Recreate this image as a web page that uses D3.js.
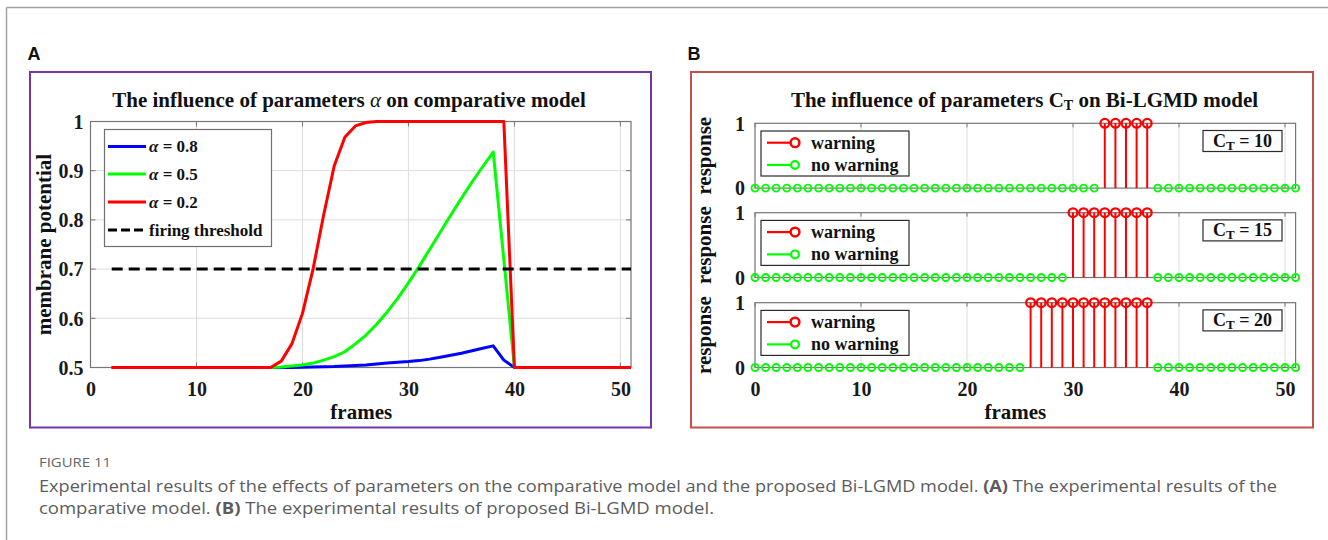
<!DOCTYPE html>
<html>
<head>
<meta charset="utf-8">
<script src="https://cdn.jsdelivr.net/npm/d3@7"></script>
<style>
  html, body { margin: 0; padding: 0; background: #fff; }
  svg { display: block; }
</style>
</head>
<body>
<svg id="fig" width="1328" height="540"></svg>
<script>
// ---------- Panel A data: membrane potential per frame ----------
const framesA = [2,3,4,5,6,7,8,9,10,11,12,13,14,15,16,17,18,19,20,21,22,23,24,25,26,
                 27,28,29,30,31,32,33,34,35,36,37,38,39,40,41,42,43,44,45,46,47,48,49,50,51];
const alpha08 = [0.5,0.5,0.5,0.5,0.5,0.5,0.5,0.5,0.5,0.5,0.5,0.5,0.5,0.5,0.5,
                 0.5,0.5,0.5,0.5005,0.501,0.5015,0.502,0.503,0.504,0.505,0.507,0.509,0.5105,
                 0.512,0.514,0.517,0.521,0.525,0.529,0.534,0.539,0.544,0.515,0.5,
                 0.5,0.5,0.5,0.5,0.5,0.5,0.5,0.5,0.5,0.5,0.5];
const alpha05 = [0.5,0.5,0.5,0.5,0.5,0.5,0.5,0.5,0.5,0.5,0.5,0.5,0.5,0.5,0.5,
                 0.5,0.501,0.503,0.505,0.509,0.515,0.522,0.532,0.548,0.566,0.588,0.613,0.641,
                 0.672,0.705,0.74,0.775,0.81,0.844,0.877,0.908,0.938,0.72,0.5,
                 0.5,0.5,0.5,0.5,0.5,0.5,0.5,0.5,0.5,0.5,0.5];
const alpha02 = [0.5,0.5,0.5,0.5,0.5,0.5,0.5,0.5,0.5,0.5,0.5,0.5,0.5,0.5,0.5,
                 0.5,0.513,0.548,0.61,0.70,0.81,0.91,0.968,0.991,0.998,1,1,1,
                 1,1,1,1,1,1,1,1,1,1,0.5,
                 0.5,0.5,0.5,0.5,0.5,0.5,0.5,0.5,0.5,0.5,0.5];
const firingThreshold = 0.7;
const seriesLabelsA = ["0.8", "0.5", "0.2"];
const seriesColorsA = ["#0000ff", "#00ff00", "#ff0000"];

const xTicks = [0, 10, 20, 30, 40, 50];
const yTicksA = [0.5, 0.6, 0.7, 0.8, 0.9, 1];
const yTickLabelsA = ["0.5", "0.6", "0.7", "0.8", "0.9", "1"];

// ---------- Panel B data: warning response per frame ----------
const framesB = [0,1,2,3,4,5,6,7,8,9,10,11,12,13,14,15,16,17,18,19,20,21,22,23,24,25,
                 26,27,28,29,30,31,32,33,34,35,36,37,38,39,40,41,42,43,44,45,46,47,48,49,50,51];
const responseCT10 = [0,0,0,0,0,0,0,0,0,0,0,0,0,0,0,0,0,0,0,0,0,0,0,0,0,0,
                      0,0,0,0,0,0,0,1,1,1,1,1,0,0,0,0,0,0,0,0,0,0,0,0,0,0];
const responseCT15 = [0,0,0,0,0,0,0,0,0,0,0,0,0,0,0,0,0,0,0,0,0,0,0,0,0,0,
                      0,0,0,0,1,1,1,1,1,1,1,1,0,0,0,0,0,0,0,0,0,0,0,0,0,0];
const responseCT20 = [0,0,0,0,0,0,0,0,0,0,0,0,0,0,0,0,0,0,0,0,0,0,0,0,0,0,
                      1,1,1,1,1,1,1,1,1,1,1,1,0,0,0,0,0,0,0,0,0,0,0,0,0,0];
const ctValues = [10, 15, 20];
const responses = [responseCT10, responseCT15, responseCT20];
const yTicksB = [0, 1];

// ---------- styles ----------
const serif = "'Liberation Serif','Times New Roman',serif";
const sans = "'Liberation Sans',Arial,sans-serif";
const axisGray = "#767676";
const gridGray = "#dddddd";

const svg = d3.select("#fig");

// page frame
svg.append("line").attr("x1", 6.5).attr("y1", 7.5).attr("x2", 6.5).attr("y2", 540)
  .attr("stroke", "#a3a3a3").attr("stroke-width", 1.5);
svg.append("line").attr("x1", 6.5).attr("y1", 7.5).attr("x2", 1328).attr("y2", 7.5)
  .attr("stroke", "#a3a3a3").attr("stroke-width", 1.5);

// panel letters and frames
svg.append("text").attr("x", 27.5).attr("y", 60).text("A")
  .attr("font-family", sans).attr("font-weight", "bold").attr("font-size", 18).attr("fill", "#111");
svg.append("text").attr("x", 687.5).attr("y", 60).text("B")
  .attr("font-family", sans).attr("font-weight", "bold").attr("font-size", 18).attr("fill", "#111");
svg.append("rect").attr("x", 30).attr("y", 72).attr("width", 621).attr("height", 355.5)
  .attr("fill", "none").attr("stroke", "#7434aa").attr("stroke-width", 2);
svg.append("rect").attr("x", 691).attr("y", 72).attr("width", 622).attr("height", 355.5)
  .attr("fill", "none").attr("stroke", "#c5504a").attr("stroke-width", 2);

// ===================== Panel A =====================
const xA = d3.scaleLinear().domain([0, 51]).range([90.5, 631]);
const yA = d3.scaleLinear().domain([0.5, 1]).range([367.5, 121.5]);
const gA = svg.append("g");

// grid
gA.selectAll(".vgrid").data(xTicks.filter(d => d > 0)).join("line")
  .attr("x1", d => xA(d)).attr("x2", d => xA(d))
  .attr("y1", yA(1)).attr("y2", yA(0.5))
  .attr("stroke", gridGray).attr("stroke-width", 1);
gA.selectAll(".hgrid").data(yTicksA.filter(d => d > 0.5 && d < 1)).join("line")
  .attr("x1", xA(0)).attr("x2", xA(51))
  .attr("y1", d => yA(d)).attr("y2", d => yA(d))
  .attr("stroke", gridGray).attr("stroke-width", 1);

// axes box and inner ticks
gA.append("rect").attr("x", xA(0)).attr("y", yA(1))
  .attr("width", xA(51) - xA(0)).attr("height", yA(0.5) - yA(1))
  .attr("fill", "none").attr("stroke", axisGray).attr("stroke-width", 1.2);
xTicks.forEach(t => {
  gA.append("line").attr("x1", xA(t)).attr("x2", xA(t)).attr("y1", yA(0.5)).attr("y2", yA(0.5) - 5)
    .attr("stroke", axisGray);
  gA.append("line").attr("x1", xA(t)).attr("x2", xA(t)).attr("y1", yA(1)).attr("y2", yA(1) + 5)
    .attr("stroke", axisGray);
});
yTicksA.forEach(t => {
  gA.append("line").attr("x1", xA(0)).attr("x2", xA(0) + 5).attr("y1", yA(t)).attr("y2", yA(t))
    .attr("stroke", axisGray);
  gA.append("line").attr("x1", xA(51)).attr("x2", xA(51) - 5).attr("y1", yA(t)).attr("y2", yA(t))
    .attr("stroke", axisGray);
});

// tick labels
const axA_x = gA.append("g").attr("transform", `translate(0,${yA(0.5)})`)
  .call(d3.axisBottom(xA).tickValues(xTicks).tickSize(0));
axA_x.select(".domain").remove();
axA_x.selectAll("text").attr("y", 28.5).attr("dy", null)
  .attr("font-family", serif).attr("font-weight", "bold").attr("font-size", 20).attr("fill", "#1a1a1a");

const axA_y = gA.append("g").attr("transform", `translate(${xA(0)},0)`)
  .call(d3.axisLeft(yA).tickValues(yTicksA).tickFormat((d, i) => yTickLabelsA[i]).tickSize(0).tickPadding(7));
axA_y.select(".domain").remove();
axA_y.selectAll("text").attr("dy", "0.34em")
  .attr("font-family", serif).attr("font-weight", "bold").attr("font-size", 20).attr("fill", "#1a1a1a");

// curves
const lineA = d3.line().x((d, i) => xA(framesA[i])).y(d => yA(d));
[alpha08, alpha05, alpha02].forEach((s, k) => {
  gA.append("path").datum(s).attr("d", lineA)
    .attr("fill", "none").attr("stroke", seriesColorsA[k]).attr("stroke-width", 3)
    .attr("stroke-linejoin", "round");
});
gA.append("line")
  .attr("x1", xA(framesA[0])).attr("x2", xA(framesA[framesA.length - 1]))
  .attr("y1", yA(firingThreshold)).attr("y2", yA(firingThreshold))
  .attr("stroke", "#000").attr("stroke-width", 3).attr("stroke-dasharray", "11,6");

// legend
const legA = gA.append("g");
legA.append("rect").attr("x", 104.5).attr("y", 129.5).attr("width", 167).attr("height", 117)
  .attr("fill", "#fff").attr("stroke", "#707070").attr("stroke-width", 1.2);
const legRowsA = [146.5, 174, 202, 230];
seriesLabelsA.forEach((lab, k) => {
  legA.append("line").attr("x1", 108).attr("x2", 146).attr("y1", legRowsA[k]).attr("y2", legRowsA[k])
    .attr("stroke", seriesColorsA[k]).attr("stroke-width", 3);
  const t = legA.append("text").attr("x", 149).attr("y", legRowsA[k]).attr("dy", "0.35em")
    .attr("font-family", serif).attr("font-weight", "bold").attr("font-size", 17).attr("fill", "#111");
  t.append("tspan").attr("font-style", "italic").text("α");
  t.append("tspan").text(" = " + lab);
});
legA.append("line").attr("x1", 108).attr("x2", 146).attr("y1", legRowsA[3]).attr("y2", legRowsA[3])
  .attr("stroke", "#000").attr("stroke-width", 3).attr("stroke-dasharray", "9,4");
legA.append("text").attr("x", 149).attr("y", legRowsA[3]).attr("dy", "0.35em")
  .attr("font-family", serif).attr("font-weight", "bold").attr("font-size", 17).attr("fill", "#111")
  .text("firing threshold");

// title and axis labels
const titleA = gA.append("text").attr("x", 349).attr("y", 107).attr("text-anchor", "middle")
  .attr("font-family", serif).attr("font-weight", "bold").attr("font-size", 21).attr("fill", "#111");
titleA.append("tspan").text("The influence of parameters ");
titleA.append("tspan").attr("font-style", "italic").attr("font-weight", "normal").text("α");
titleA.append("tspan").text(" on comparative model");
gA.append("text").attr("transform", `translate(51,${(yA(0.5) + yA(1)) / 2}) rotate(-90)`)
  .attr("text-anchor", "middle").attr("font-family", serif).attr("font-weight", "bold")
  .attr("font-size", 21).attr("fill", "#111").text("membrane potential");
gA.append("text").attr("x", (xA(0) + xA(51)) / 2 + 0.5).attr("y", 419).attr("text-anchor", "middle")
  .attr("font-family", serif).attr("font-weight", "bold").attr("font-size", 21).attr("fill", "#111")
  .text("frames");

// ===================== Panel B =====================
const xB = d3.scaleLinear().domain([0, 51]).range([755, 1295.6]);
const subTops = [123.3, 212.7, 302.7];
const subH = 64.8;
const gB = svg.append("g");

subTops.forEach((top, k) => {
  const yS = d3.scaleLinear().domain([0, 1]).range([top + subH, top]);
  const g = gB.append("g");
  const resp = responses[k];

  g.selectAll(".vgrid").data(xTicks.filter(d => d > 0)).join("line")
    .attr("x1", d => xB(d)).attr("x2", d => xB(d))
    .attr("y1", yS(1)).attr("y2", yS(0))
    .attr("stroke", gridGray).attr("stroke-width", 1);
  g.append("rect").attr("x", xB(0)).attr("y", yS(1))
    .attr("width", xB(51) - xB(0)).attr("height", yS(0) - yS(1))
    .attr("fill", "none").attr("stroke", axisGray).attr("stroke-width", 1.2);
  xTicks.forEach(t => {
    g.append("line").attr("x1", xB(t)).attr("x2", xB(t)).attr("y1", yS(0)).attr("y2", yS(0) - 4)
      .attr("stroke", axisGray);
    g.append("line").attr("x1", xB(t)).attr("x2", xB(t)).attr("y1", yS(1)).attr("y2", yS(1) + 4)
      .attr("stroke", axisGray);
  });

  // y tick labels
  const ay = g.append("g").attr("transform", `translate(${xB(0)},0)`)
    .call(d3.axisLeft(yS).tickValues(yTicksB).tickFormat(d3.format("d")).tickSize(0).tickPadding(10));
  ay.select(".domain").remove();
  ay.selectAll("text").attr("dy", "0.34em")
    .attr("font-family", serif).attr("font-weight", "bold").attr("font-size", 20).attr("fill", "#1a1a1a");

  g.append("text").attr("transform", `translate(711,${top + subH / 2}) rotate(-90)`)
    .attr("text-anchor", "middle").attr("font-family", serif).attr("font-weight", "bold")
    .attr("font-size", 21).attr("fill", "#111").text("response");

  // no-warning markers (value 0)
  g.selectAll(".nw").data(framesB.filter((f, i) => resp[i] === 0)).join("circle")
    .attr("cx", d => xB(d)).attr("cy", yS(0)).attr("r", 3.5)
    .attr("fill", "none").attr("stroke", "#00ff00").attr("stroke-width", 1.9);
  // warning stems (value 1)
  const warn = framesB.filter((f, i) => resp[i] === 1);
  g.selectAll(".ws").data(warn).join("line")
    .attr("x1", d => xB(d)).attr("x2", d => xB(d))
    .attr("y1", yS(0)).attr("y2", yS(1))
    .attr("stroke", "#ff0000").attr("stroke-width", 2);
  g.selectAll(".wm").data(warn).join("circle")
    .attr("cx", d => xB(d)).attr("cy", yS(1)).attr("r", 4.4)
    .attr("fill", "none").attr("stroke", "#ff0000").attr("stroke-width", 2.3);

  // legend
  const lg = g.append("g");
  lg.append("rect").attr("x", 761).attr("y", top + 7.7).attr("width", 148).attr("height", 45)
    .attr("fill", "#fff").attr("stroke", "#2a2a2a").attr("stroke-width", 1.2);
  const r1 = top + 19.4, r2 = top + 41.7;
  lg.append("line").attr("x1", 767).attr("x2", 795).attr("y1", r1).attr("y2", r1)
    .attr("stroke", "#ff0000").attr("stroke-width", 2.2);
  lg.append("circle").attr("cx", 795).attr("cy", r1).attr("r", 4.4)
    .attr("fill", "#fff").attr("stroke", "#ff0000").attr("stroke-width", 2.5);
  lg.append("line").attr("x1", 767).attr("x2", 795).attr("y1", r2).attr("y2", r2)
    .attr("stroke", "#00ff00").attr("stroke-width", 2.2);
  lg.append("circle").attr("cx", 795).attr("cy", r2).attr("r", 3.9)
    .attr("fill", "#fff").attr("stroke", "#00ff00").attr("stroke-width", 2.2);
  lg.append("text").attr("x", 811).attr("y", r1).attr("dy", "0.33em")
    .attr("font-family", serif).attr("font-weight", "bold").attr("font-size", 18).attr("fill", "#111")
    .text("warning");
  lg.append("text").attr("x", 811).attr("y", r2).attr("dy", "0.33em")
    .attr("font-family", serif).attr("font-weight", "bold").attr("font-size", 18).attr("fill", "#111")
    .text("no warning");

  // C_T annotation
  g.append("rect").attr("x", 1203).attr("y", top + 7.2).attr("width", 79).attr("height", 21)
    .attr("fill", "#fff").attr("stroke", "#2a2a2a").attr("stroke-width", 1.2);
  const ct = g.append("text").attr("x", 1242.5).attr("y", top + 23.5).attr("text-anchor", "middle")
    .attr("font-family", serif).attr("font-weight", "bold").attr("font-size", 18).attr("fill", "#111");
  ct.append("tspan").text("C");
  ct.append("tspan").attr("font-size", 13).attr("dy", 3).text("T");
  ct.append("tspan").attr("dy", -3).text(" = " + ctValues[k]);

  if (k === subTops.length - 1) {
    const ax = g.append("g").attr("transform", `translate(0,${yS(0)})`)
      .call(d3.axisBottom(xB).tickValues(xTicks).tickSize(0));
    ax.select(".domain").remove();
    ax.selectAll("text").attr("y", 28.8).attr("dy", null)
      .attr("font-family", serif).attr("font-weight", "bold").attr("font-size", 20).attr("fill", "#1a1a1a");
  }
});

const titleB = gB.append("text").attr("x", 1024.5).attr("y", 107).attr("text-anchor", "middle")
  .attr("font-family", serif).attr("font-weight", "bold").attr("font-size", 21).attr("fill", "#111");
titleB.append("tspan").text("The influence of parameters ");
titleB.append("tspan").text("C");
titleB.append("tspan").attr("font-size", 14).attr("dy", 3).text("T");
titleB.append("tspan").attr("dy", -3).text(" on Bi-LGMD model");
gB.append("text").attr("x", (xB(0) + xB(51)) / 2 - 10).attr("y", 419).attr("text-anchor", "middle")
  .attr("font-family", serif).attr("font-weight", "bold").attr("font-size", 21).attr("fill", "#111")
  .text("frames");

// ===================== Caption =====================
const capFont = "'Open Sans','Noto Sans',sans-serif";
svg.append("text").attr("x", 39).attr("y", 466.5).attr("font-family", capFont)
  .attr("font-size", 12.5).attr("fill", "#666").attr("textLength", 72).attr("lengthAdjust", "spacingAndGlyphs")
  .text("FIGURE 11");
const cap1 = svg.append("text").attr("x", 39).attr("y", 492).attr("font-family", capFont)
  .attr("font-size", 16).attr("fill", "#5c5c5c")
  .attr("textLength", 1238).attr("lengthAdjust", "spacingAndGlyphs");
cap1.append("tspan").text("Experimental results of the effects of parameters on the comparative model and the proposed Bi-LGMD model. ");
cap1.append("tspan").attr("font-weight", "bold").text("(A)");
cap1.append("tspan").text(" The experimental results of the");
const cap2 = svg.append("text").attr("x", 39).attr("y", 514).attr("font-family", capFont)
  .attr("font-size", 16).attr("fill", "#5c5c5c")
  .attr("textLength", 675).attr("lengthAdjust", "spacingAndGlyphs");
cap2.append("tspan").text("comparative model. ");
cap2.append("tspan").attr("font-weight", "bold").text("(B)");
cap2.append("tspan").text(" The experimental results of proposed Bi-LGMD model.");
</script>
</body>
</html>
